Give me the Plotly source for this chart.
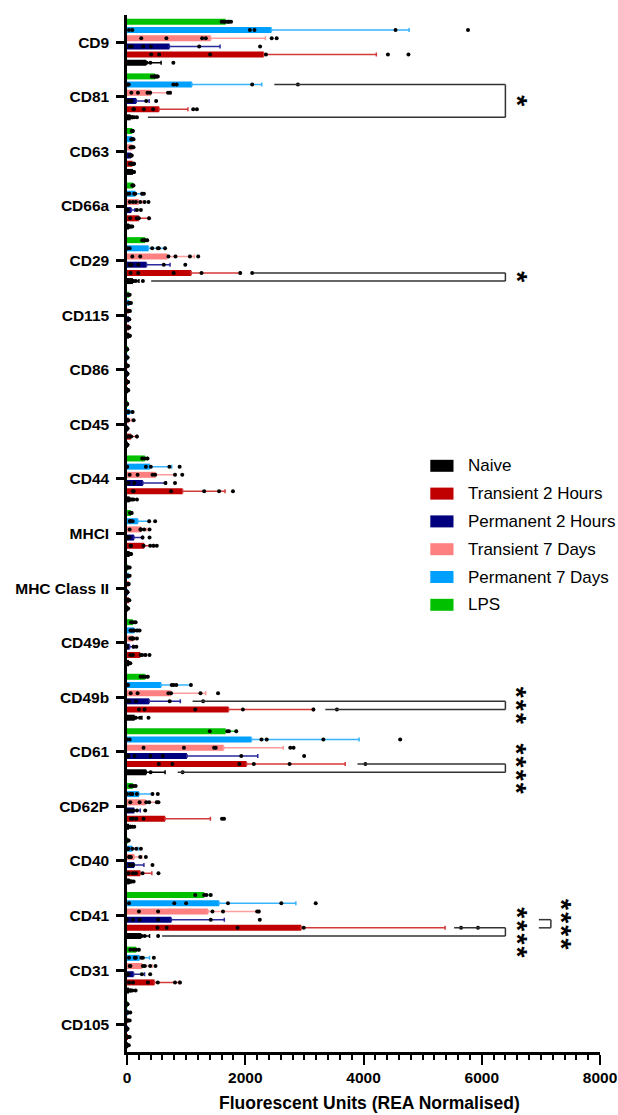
import plotly.graph_objects as go

# ---------------- data ----------------
categories = ["CD9", "CD81", "CD63", "CD66a", "CD29", "CD115", "CD86", "CD45", "CD44",
              "MHCI", "MHC Class II", "CD49e", "CD49b", "CD61", "CD62P", "CD40",
              "CD41", "CD31", "CD105"]

groups = ["Naive", "Transient 2 Hours", "Permanent 2 Hours",
          "Transient 7 Days", "Permanent 7 Days", "LPS"]

mean_naive = [325, 60, 100, 34, 100, 35, 15, 5, 45, 45, 10, 20, 129, 325, 28, 45, 241, 34, 10]
mean_t2h   = [2313, 543, 90, 200, 1086, 30, 10, 67, 941, 291, 20, 224, 1719, 2022, 644, 224, 2946, 465, 10]
mean_p2h   = [717, 157, 67, 73, 330, 30, 10, 5, 269, 118, 10, 45, 375, 1014, 123, 123, 750, 112, 5]
mean_t7d   = [1417, 403, 90, 200, 683, 35, 10, 35, 487, 235, 20, 100, 745, 1635, 319, 123, 1372, 258, 10]
mean_p7d   = [2442, 1098, 90, 140, 364, 40, 10, 45, 386, 185, 20, 123, 577, 2106, 202, 90, 1557, 213, 10]
mean_lps   = [1669, 476, 90, 100, 308, 30, 5, 5, 302, 67, 15, 100, 308, 1669, 100, 10, 1305, 157, 5]

sd_naive = [252, 30, 10, 10, 102, 10, 10, 0, 40, 10, 0, 20, 123, 319, 30, 20, 140, 30, 5]
sd_t2h   = [1904, 487, 20, 168, 824, 10, 10, 101, 717, 157, 10, 80, 1434, 1668, 767, 196, 2434, 420, 5]
sd_p2h   = [857, 218, 10, 60, 398, 10, 5, 5, 392, 145, 5, 60, 527, 1198, 101, 163, 896, 185, 5]
sd_t7d   = [924, 342, 10, 60, 454, 10, 5, 40, 331, 100, 10, 40, 588, 1008, 180, 130, 868, 170, 5]
sd_p7d   = [2329, 1181, 10, 110, 280, 15, 5, 30, 370, 190, 10, 60, 504, 1820, 229, 100, 1299, 168, 10]
sd_lps   = [60, 30, 5, 10, 30, 5, 5, 5, 40, 10, 10, 30, 40, 179, 20, 10, 100, 40, 5]

pts_naive = [[45, 146, 250, 330, 395, 784], [10, 34, 60, 90, 123, 168], [60, 80, 100, 110, 120],
             [10, 30, 50, 70, 90], [40, 60, 90, 110, 150, 269], [20, 30, 40, 50], [5, 10, 20],
             [0, 5, 10], [20, 40, 56, 110, 168], [20, 40, 60, 70], [5, 10, 20], [0, 10, 30, 56],
             [40, 80, 120, 150, 220, 364], [100, 157, 250, 300, 400, 941], [10, 20, 56, 90, 123],
             [20, 40, 56, 80, 112], [100, 150, 213, 250, 300, 526], [10, 30, 56, 90, 146], [5, 10, 30]]
pts_t2h = [[409, 543, 1406, 2350, 4413, 4760], [112, 116, 286, 442, 1120, 1182],
           [50, 70, 90, 100, 110, 120], [53, 166, 200, 373], [60, 190, 790, 1260, 1915, 2117],
           [20, 30, 40], [5, 10, 20], [20, 50, 70, 168], [100, 112, 745, 1305, 1557, 1792],
           [60, 67, 280, 392, 448, 504], [10, 20, 40], [56, 100, 230, 258, 314, 381],
           [202, 297, 1154, 1960, 3153, 3550], [538, 767, 1900, 2145, 2750, 4032],
           [67, 101, 157, 280, 1607, 1641], [28, 100, 150, 263, 532], [515, 672, 1870, 2990, 5650, 5936],
           [34, 101, 353, 521, 812, 896], [10, 20, 45]]
pts_p2h = [[50, 78, 274, 403, 1221, 2251], [10, 20, 34, 78, 325, 493], [50, 60, 70, 80],
           [5, 10, 10, 10, 168, 235], [50, 50, 78, 190, 622, 986], [20, 30, 40], [5, 10],
           [0, 5, 10], [0, 0, 28, 123, 650, 812], [0, 10, 20, 40, 263, 381], [5, 10],
           [0, 0, 0, 0, 112, 158], [25, 30, 34, 151, 722, 1288], [24, 129, 398, 605, 1932, 2996],
           [20, 50, 92, 100, 168, 308], [50, 50, 50, 56, 100, 431], [0, 101, 213, 526, 1417, 2246],
           [0, 0, 5, 20, 252, 392], [0, 5, 10]]
pts_t7d = [[241, 666, 1271, 1333, 2447, 2531], [73, 185, 346, 392, 694, 728], [60, 80, 90, 110],
           [45, 100, 150, 224, 297, 364], [90, 224, 700, 820, 1064, 1204], [20, 35, 50], [5, 10, 15],
           [0, 10, 20, 112], [45, 179, 431, 476, 812, 935], [45, 228, 230, 235, 291, 381], [10, 20, 30],
           [56, 80, 90, 100, 106, 168], [62, 179, 700, 745, 1243, 1540], [280, 963, 1473, 1501, 2761, 2817],
           [56, 213, 325, 375, 504, 532], [38, 40, 50, 67, 224, 319], [202, 526, 1445, 1624, 2201, 2229],
           [45, 58, 269, 302, 392, 482], [10, 20, 45]]
pts_p7d = [[34, 90, 2078, 2156, 4542, 5768], [0, 30, 784, 840, 2117, 2890], [70, 90, 100, 110],
           [0, 40, 120, 140, 254, 286], [10, 45, 426, 521, 538, 644], [30, 45, 67], [5, 10],
           [10, 30, 95], [0, 0, 319, 403, 717, 890], [50, 54, 60, 95, 375, 476], [10, 20, 45],
           [60, 74, 100, 123, 168, 213], [0, 17, 756, 790, 834, 1081], [0, 45, 2274, 2363, 3321, 4620],
           [0, 56, 90, 168, 431, 521], [18, 20, 20, 90, 157, 235], [34, 800, 1000, 1708, 2610, 3192],
           [34, 130, 150, 241, 269, 454], [10, 20, 56]]
pts_lps = [[1600, 1640, 1660, 1700, 1720, 1760], [420, 459, 470, 480, 506, 521], [80, 90, 100],
           [90, 100, 110], [258, 291, 300, 342], [20, 30, 45], [0, 5], [0, 5], [258, 302, 347],
           [50, 67, 80], [10, 20, 45], [67, 100, 146], [230, 274, 314, 353], [1400, 1697, 1725, 1848],
           [56, 100, 146], [0, 10, 28], [1154, 1305, 1344, 1417], [56, 112, 157, 202], [0, 5, 10]]

means = [mean_naive, mean_t2h, mean_p2h, mean_t7d, mean_p7d, mean_lps]
sds = [sd_naive, sd_t2h, sd_p2h, sd_t7d, sd_p7d, sd_lps]
points = [pts_naive, pts_t2h, pts_p2h, pts_t7d, pts_p7d, pts_lps]

# significance brackets: category, upper group, lower group, arm starts, bracket x, stars, star x
br_cat = ["CD81", "CD29", "CD49b", "CD61", "CD41", "CD41"]
br_upper = ["Permanent 7 Days", "Transient 2 Hours", "Permanent 2 Hours", "Transient 2 Hours",
            "Transient 2 Hours", "Permanent 2 Hours"]
br_lower = ["Naive", "Naive", "Transient 2 Hours", "Naive", "Naive", "Transient 2 Hours"]
br_upper_start = [2492, 2145, 1109, 3898, 5533, 6966]
br_lower_start = [353, 409, 3354, 857, 594, 6966]
br_x = [6400, 6400, 6400, 6400, 6400, 7169]
br_stars = [1, 1, 3, 4, 4, 4]
br_star_x = [6660, 6660, 6660, 6660, 6660, 7420]

x_ticks = [0, 2000, 4000, 6000, 8000]

# ---------------- style ----------------
colors = ["#000000", "#C00000", "#00007F", "#FF8080", "#00A0FF", "#00C000"]
err_colors = ["#000000", "#D43A3A", "#2A2A9A", "#FF9C9C", "#38B4FF", "#2ECC2E"]
FONT = "Liberation Sans, Arial, sans-serif"
pitch = 0.15
barw = 0.11
L, R, T, B = 127, 18, 15, 63
W, H = 618, 1115
PW, PH = W - L - R, H - T - B


def slot_offset(gi):
    slot = 5 - gi  # 0 = top (LPS) ... 5 = bottom (Naive)
    return (slot - 2.5) * pitch


idx = list(range(len(categories)))
fig = go.Figure()

for gi, g in enumerate(groups):
    off = slot_offset(gi)
    fig.add_trace(go.Bar(
        orientation="h", y=idx, x=means[gi], width=barw, offset=off - barw / 2,
        marker=dict(color=colors[gi], line=dict(width=0)), name=g, showlegend=False))

for gi, g in enumerate(groups):
    off = slot_offset(gi)
    fig.add_trace(go.Scatter(
        y=[k + off for k in idx], x=means[gi], mode="markers",
        marker=dict(size=1, color="rgba(0,0,0,0)"),
        error_x=dict(type="data", symmetric=False, array=sds[gi], arrayminus=[0] * len(idx),
                     color=err_colors[gi], thickness=1.5, width=2),
        showlegend=False, hoverinfo="skip"))

for gi, g in enumerate(groups):
    off = slot_offset(gi)
    ys, xs = [], []
    for k in idx:
        for v in points[gi][k]:
            ys.append(k + off)
            xs.append(v)
    fig.add_trace(go.Scatter(
        y=ys, x=xs, mode="markers",
        marker=dict(size=4, color="black", line=dict(width=0)),
        showlegend=False, hoverinfo="skip"))

# brackets
shapes = []
annotations = []
gap = "<span style='font-size:8px'> </span>"
for b in range(len(br_cat)):
    k = categories.index(br_cat[b])
    yu = k + slot_offset(groups.index(br_upper[b]))
    yl = k + slot_offset(groups.index(br_lower[b]))
    lc = dict(color="#333333", width=1.5)
    shapes.append(dict(type="line", xref="x", yref="y", x0=br_upper_start[b], x1=br_x[b], y0=yu, y1=yu, line=lc))
    shapes.append(dict(type="line", xref="x", yref="y", x0=br_lower_start[b], x1=br_x[b], y0=yl, y1=yl, line=lc))
    shapes.append(dict(type="line", xref="x", yref="y", x0=br_x[b], x1=br_x[b], y0=yu, y1=yl, line=lc))
    annotations.append(dict(
        x=br_star_x[b], y=(yu + yl) / 2, xref="x", yref="y", text=gap.join(["*"] * br_stars[b]),
        showarrow=False, textangle=90,
        font=dict(family=FONT, size=28, color="black", weight="bold"),
        xanchor="center", yanchor="middle", xshift=-4))

# custom legend
leg_x0, leg_x1, leg_tx = 430.3, 453.5, 465.7
for gi, g in enumerate(groups):
    yc = 465.8 + gi * 27.8
    shapes.append(dict(type="rect", xref="paper", yref="paper",
                       x0=(leg_x0 - L) / PW, x1=(leg_x1 - L) / PW,
                       y0=1 - (yc + 6 - T) / PH, y1=1 - (yc - 6 - T) / PH,
                       fillcolor=colors[gi], line=dict(width=0)))
    annotations.append(dict(x=(leg_tx - L) / PW, y=1 - (yc - T) / PH, xref="paper", yref="paper",
                            text=g, showarrow=False, xanchor="left", yanchor="middle",
                            font=dict(family=FONT, size=17, color="black")))

# x axis title
annotations.append(dict(x=(369.7 - L) / PW, y=-(1102.5 - (H - B)) / PH, xref="paper", yref="paper",
                        text="Fluorescent Units (REA Normalised)", showarrow=False,
                        xanchor="center", yanchor="middle",
                        font=dict(family=FONT, size=17.5, color="black", weight="bold")))

fig.update_layout(
    width=W, height=H, margin=dict(l=L, r=R, t=T, b=B, autoexpand=False),
    paper_bgcolor="white", plot_bgcolor="white", barmode="overlay",
    shapes=shapes, annotations=annotations, showlegend=False,
    xaxis=dict(range=[0, 8000], tickvals=x_ticks, ticks="outside", ticklen=10, tickwidth=2,
               tickcolor="black", showline=True, linewidth=2.5, linecolor="black",
               showgrid=False, zeroline=False,
               minor=dict(dtick=200, ticks="outside", ticklen=5, tickwidth=2, tickcolor="black",
                          showgrid=False),
               tickfont=dict(family=FONT, size=15.5, color="black", weight="bold"),
               ticklabelstandoff=0),
    yaxis=dict(range=[len(categories) - 0.5, -0.5], tickvals=idx, ticktext=categories,
               ticks="outside", ticklen=8, tickwidth=2.5, tickcolor="black",
               showline=True, linewidth=2.5, linecolor="black", showgrid=False, zeroline=False,
               tickfont=dict(family=FONT, size=15.5, color="black", weight="bold"),
               ticklabelstandoff=4),
)

fig.write_html("out.html")
